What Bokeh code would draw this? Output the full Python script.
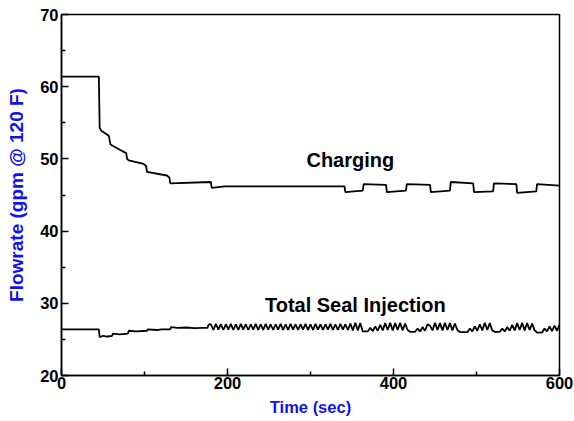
from bokeh.plotting import figure
from bokeh.models import Range1d, FixedTicker, Label
from bokeh.embed import file_html
from bokeh.resources import INLINE

# ---------------- data ----------------
charging_t = [0, 45, 46, 48, 57, 59, 73, 78, 79, 81, 99, 102, 103, 127, 130, 131,
              180, 181, 197, 341, 342, 363, 364, 391, 392, 415, 416, 444, 445,
              468, 469, 496, 497, 520, 521, 548, 549, 572, 573, 600]
charging_v = [61.4, 61.4, 54.3, 53.9, 53.2, 52.0, 51.1, 50.8, 50.0, 49.8, 49.3, 49.0, 48.2, 47.7, 47.4, 46.6,
              46.8, 46.0, 46.2, 46.2, 45.4, 45.6, 46.5, 46.4, 45.4, 45.6, 46.5, 46.4, 45.4,
              45.6, 46.8, 46.6, 45.4, 45.5, 46.6, 46.5, 45.3, 45.5, 46.5, 46.3]

seal_t_early = [0, 45, 46, 50, 55, 61, 62, 70, 80, 81, 90, 103, 104, 115, 120,
                131, 132, 140, 150, 160, 170, 176, 177]
seal_v_early = [26.4, 26.4, 25.3, 25.5, 25.4, 25.5, 25.8, 25.7, 25.8, 26.2, 26.1, 26.2, 26.4, 26.3, 26.4,
                26.4, 26.7, 26.6, 26.65, 26.55, 26.6, 26.6, 27.0]

# oscillating part, sampled every 3 s from 180 s to 600 s
seal_t_late = list(range(180, 601, 3))
seal_v_late = [
    # 180-348
    27.1, 26.3, 27.15, 26.35, 27.1, 26.3, 27.1, 26.35, 27.15, 26.3,
    27.1, 26.3, 27.15, 26.35, 27.1, 26.3, 27.1, 26.35, 27.15, 26.3,
    27.1, 26.3, 27.15, 26.35, 27.1, 26.3, 27.1, 26.35, 27.15, 26.3,
    27.1, 26.3, 27.15, 26.35, 27.1, 26.3, 27.1, 26.35, 27.15, 26.3,
    27.1, 26.3, 27.15, 26.35, 27.1, 26.3, 27.1, 26.35, 27.15, 26.3,
    27.1, 26.3, 27.15, 26.35, 27.1, 26.3, 27.2,
    # 351-360
    26.25, 27.3, 26.25, 27.25,
    # 363-369
    26.1, 26.1, 26.1,
    # 372-384
    26.6, 26.15, 26.8, 26.2, 27.0,
    # 387-417
    26.25, 27.25, 26.3, 27.3, 26.25, 27.25, 26.3, 27.3, 26.25, 27.2, 26.3,
    # 420-426
    26.05, 26.05, 26.05,
    # 429-444
    26.5, 26.1, 26.7, 26.2, 27.1, 26.9,
    # 447-477
    26.25, 27.3, 26.3, 27.25, 26.25, 27.3, 26.3, 27.25, 26.25, 27.2, 26.3,
    # 480-489
    26.0, 26.0, 26.0, 26.0,
    # 492-519
    26.5, 26.1, 26.8, 26.2, 27.1, 26.25, 27.3, 26.3, 27.25, 26.25,
    # 522-528
    26.05, 26.05, 26.05,
    # 531-570
    26.5, 26.1, 26.7, 26.2, 27.0, 26.25, 27.25, 26.3, 27.3, 26.25, 27.25, 26.3, 27.2, 26.25,
    # 573-579
    25.95, 25.95, 25.95,
    # 582-600
    26.5, 26.1, 26.8, 26.15, 26.9, 26.2, 27.0,
]

seal_t = seal_t_early + seal_t_late[:len(seal_v_late)]
seal_v = seal_v_early + seal_v_late[:len(seal_t_late)]

x_ticks = [0, 200, 400, 600]
y_ticks = [20, 30, 40, 50, 60, 70]

# ---------------- figure ----------------
FONT = "Liberation Sans"
p = figure(width=574, height=421, output_backend="svg", toolbar_location=None,
           x_range=Range1d(0, 600), y_range=Range1d(20, 70),
           min_border_left=61, min_border_right=15, min_border_top=14, min_border_bottom=46)

p.line(charging_t, charging_v, line_color="black", line_width=1.8)
p.line(seal_t, seal_v, line_color="black", line_width=1.8)

p.xgrid.visible = False
p.ygrid.visible = False
p.outline_line_color = "black"
p.outline_line_width = 1.5
p.outline_line_alpha = 1

for ax in (p.xaxis[0], p.yaxis[0]):
    ax.axis_line_color = "black"
    ax.axis_line_width = 1.5
    ax.major_tick_in = 7
    ax.major_tick_out = 0
    ax.minor_tick_in = 4
    ax.minor_tick_out = 0
    ax.major_tick_line_width = 1.5
    ax.minor_tick_line_width = 1.5
    ax.major_label_text_font = FONT
    ax.major_label_text_font_style = "bold"
    ax.major_label_text_font_size = "16.5px"
    ax.major_label_text_color = "black"
    ax.axis_label_text_font = FONT
    ax.axis_label_text_font_style = "bold"
    ax.axis_label_text_color = "#1010F0"

p.xaxis.axis_label_text_font_size = "16.5px"
p.yaxis.axis_label_text_font_size = "19px"
p.xaxis.ticker = FixedTicker(ticks=x_ticks, minor_ticks=[100, 300, 500])
p.yaxis.ticker = FixedTicker(ticks=y_ticks, minor_ticks=[25, 35, 45, 55, 65])
p.xaxis.axis_label = "Time (sec)"
p.yaxis.axis_label = "Flowrate (gpm @ 120 F)"
p.xaxis.major_label_standoff = 1
p.yaxis.major_label_standoff = 3
p.xaxis.axis_label_standoff = 6
p.yaxis.axis_label_standoff = 10

p.add_layout(Label(x=348, y=49.8, text="Charging", text_font=FONT, text_font_style="bold",
                   text_font_size="20px", text_color="black", text_align="center",
                   text_baseline="middle"))
p.add_layout(Label(x=354, y=29.7, text="Total Seal Injection", text_font=FONT,
                   text_font_style="bold", text_font_size="20px", text_color="black",
                   text_align="center", text_baseline="middle"))

open("out.html", "w").write(file_html(p, INLINE))
